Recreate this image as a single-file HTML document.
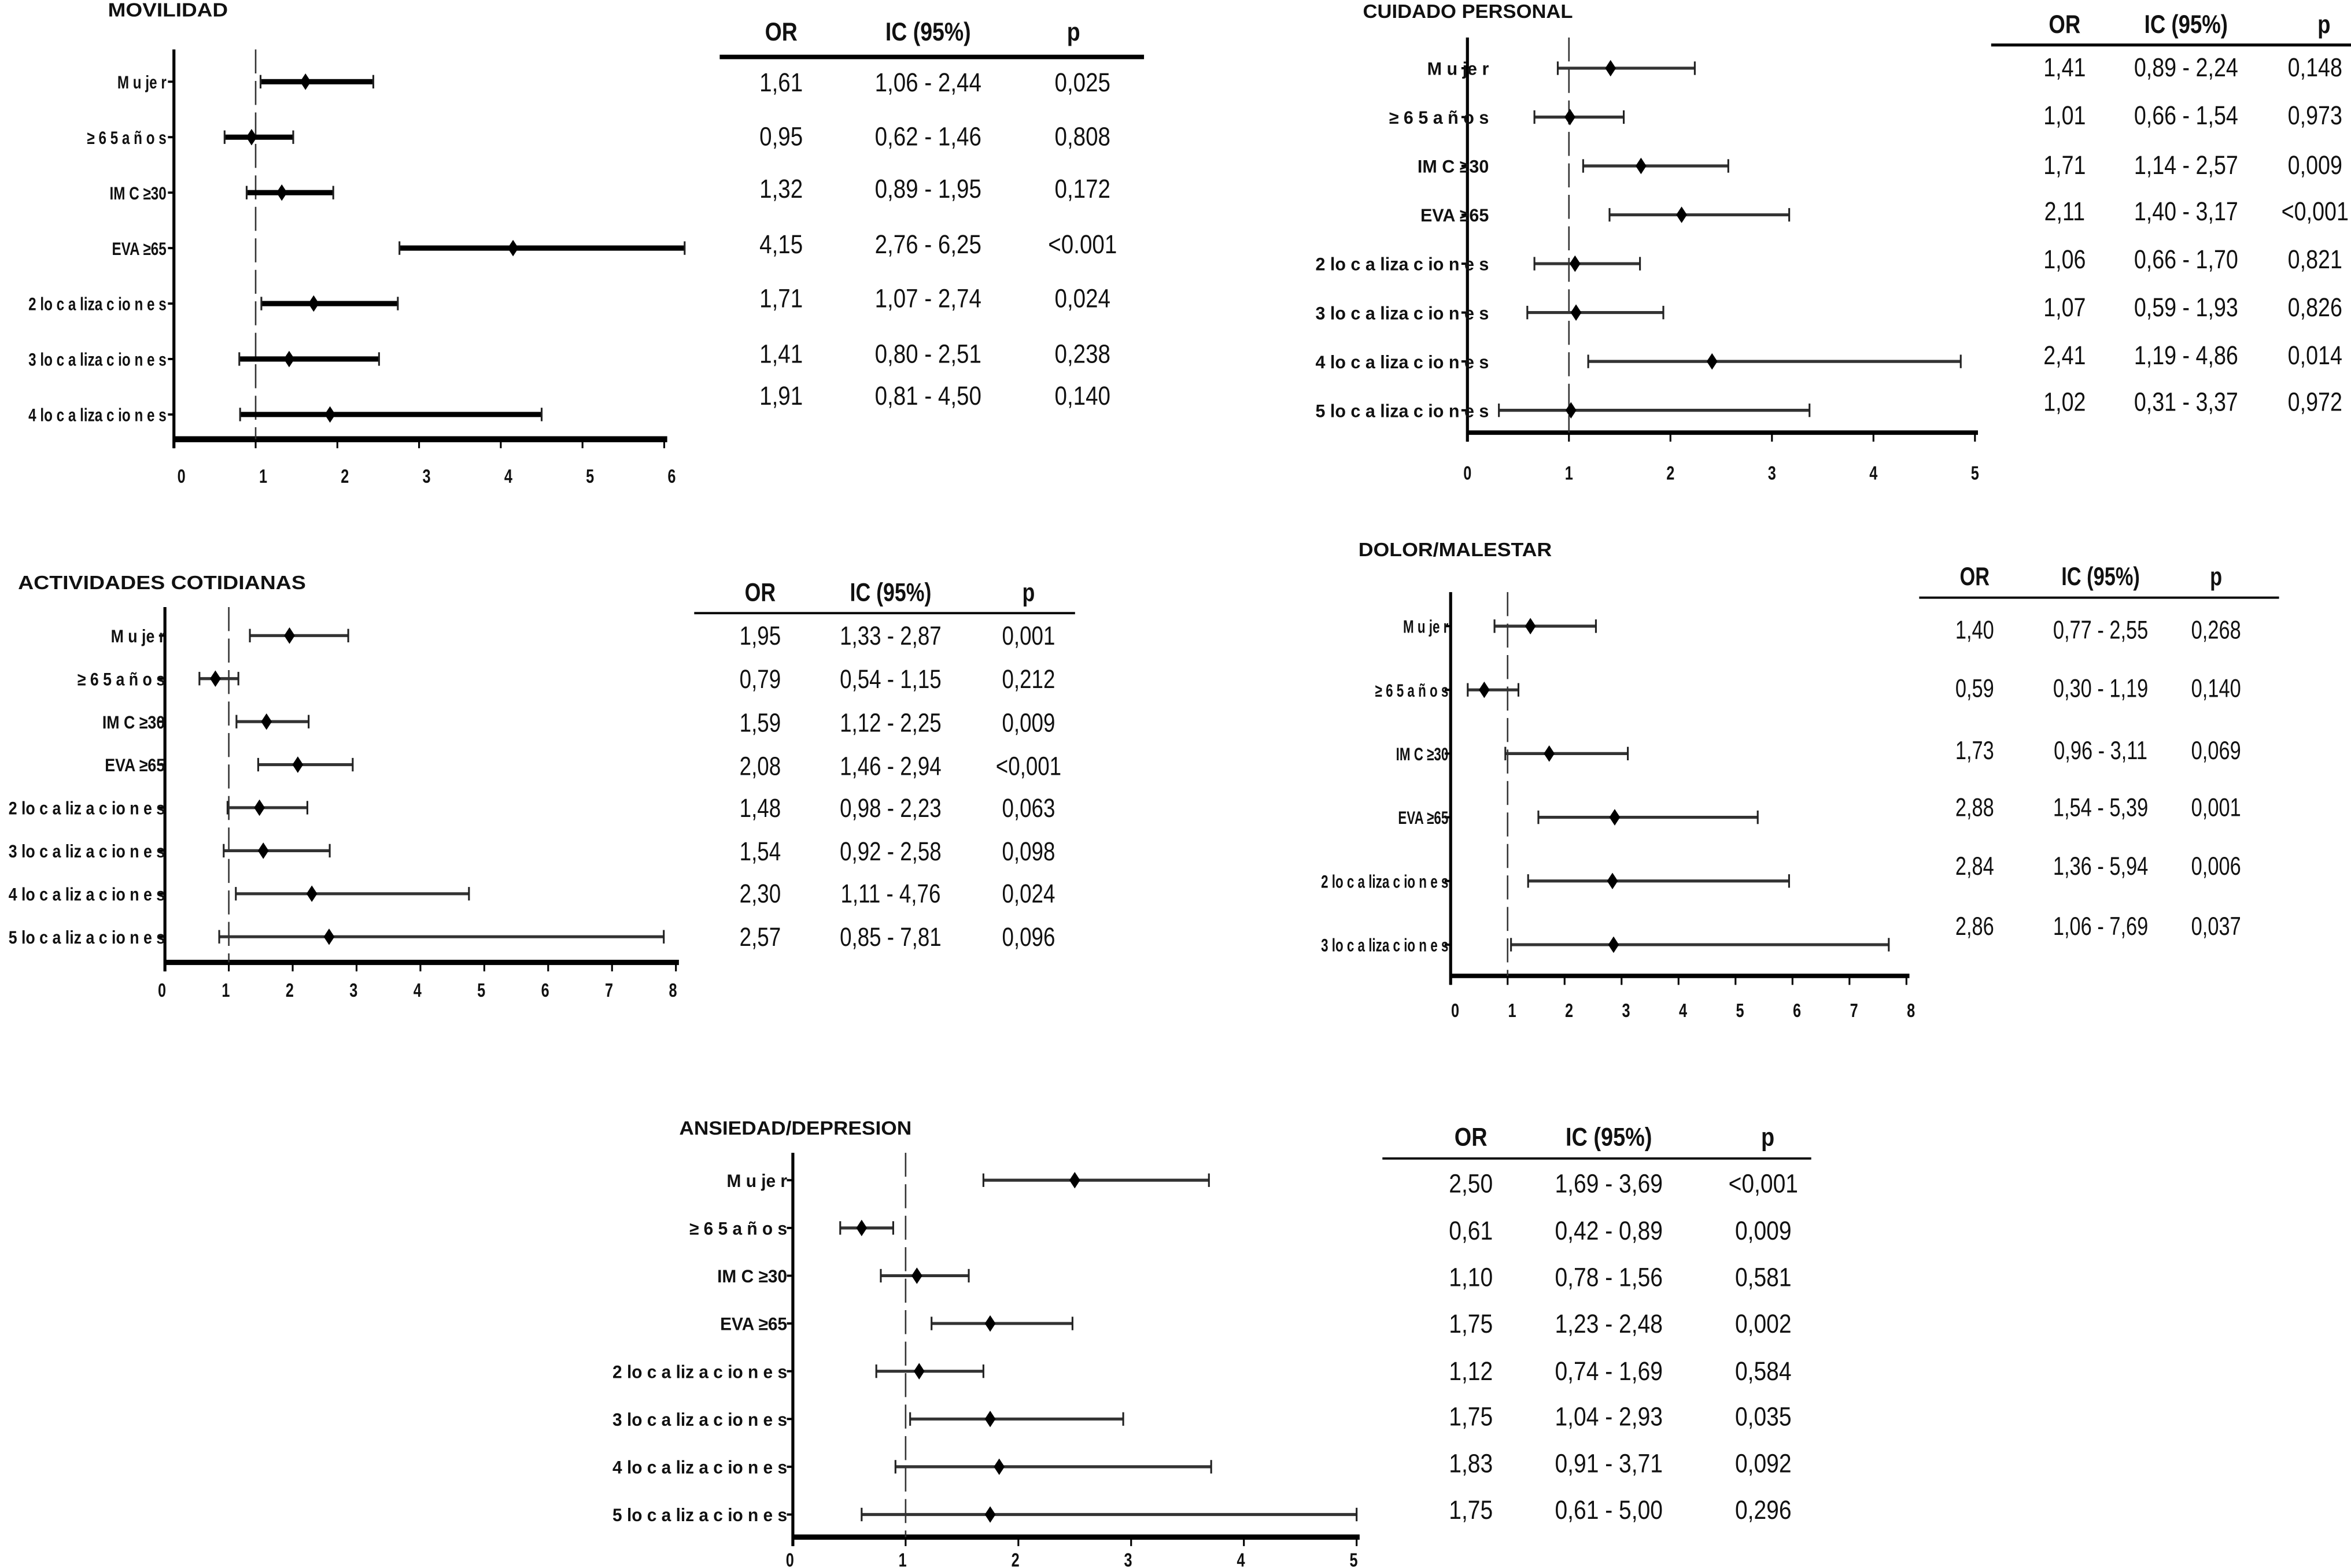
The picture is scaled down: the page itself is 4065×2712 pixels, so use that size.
<!DOCTYPE html>
<html><head><meta charset="utf-8">
<style>
html,body{margin:0;padding:0;background:#fff;}
svg{display:block;}
text{font-family:"Liberation Sans",Arial,sans-serif;fill:#111;}
</style></head>
<body>
<svg id="fig" width="4065" height="2712" viewBox="0 0 1568 1046" preserveAspectRatio="none" xmlns="http://www.w3.org/2000/svg"></svg>
<script>
// ---- data ----
const movLabels = ["M u je r","≥ 6 5 a ñ o s","IM C ≥30","EVA ≥65","2 lo c a liza c io n e s","3 lo c a liza c io n e s","4 lo c a liza c io n e s"];
const movOR = [1.61,0.95,1.32,4.15,1.71,1.41,1.91];
const movLo = [1.06,0.62,0.89,2.76,1.07,0.80,0.81];
const movHi = [2.44,1.46,1.95,6.25,2.74,2.51,4.50];
const movP  = ["0,025","0,808","0,172","<0.001","0,024","0,238","0,140"];
const movTicks = [0,1,2,3,4,5,6];

const cuiLabels = ["M u je r","≥ 6 5 a ñ o s","IM C ≥30","EVA ≥65","2 lo c a liza c io n e s","3 lo c a liza c io n e s","4 lo c a liza c io n e s","5 lo c a liza c io n e s"];
const cuiOR = [1.41,1.01,1.71,2.11,1.06,1.07,2.41,1.02];
const cuiLo = [0.89,0.66,1.14,1.40,0.66,0.59,1.19,0.31];
const cuiHi = [2.24,1.54,2.57,3.17,1.70,1.93,4.86,3.37];
const cuiP  = ["0,148","0,973","0,009","<0,001","0,821","0,826","0,014","0,972"];
const cuiTicks = [0,1,2,3,4,5];

const actLabels = ["M u je r","≥ 6 5 a ñ o s","IM C ≥30","EVA ≥65","2 lo c a liz a c io n e s","3 lo c a liz a c io n e s","4 lo c a liz a c io n e s","5 lo c a liz a c io n e s"];
const actOR = [1.95,0.79,1.59,2.08,1.48,1.54,2.30,2.57];
const actLo = [1.33,0.54,1.12,1.46,0.98,0.92,1.11,0.85];
const actHi = [2.87,1.15,2.25,2.94,2.23,2.58,4.76,7.81];
const actP  = ["0,001","0,212","0,009","<0,001","0,063","0,098","0,024","0,096"];
const actTicks = [0,1,2,3,4,5,6,7,8];

const dolLabels = ["M u je r","≥ 6 5 a ñ o s","IM C ≥30","EVA ≥65","2 lo c a liza c io n e s","3 lo c a liza c io n e s"];
const dolOR = [1.40,0.59,1.73,2.88,2.84,2.86];
const dolLo = [0.77,0.30,0.96,1.54,1.36,1.06];
const dolHi = [2.55,1.19,3.11,5.39,5.94,7.69];
const dolP  = ["0,268","0,140","0,069","0,001","0,006","0,037"];
const dolTicks = [0,1,2,3,4,5,6,7,8];

const ansLabels = ["M u je r","≥ 6 5 a ñ o s","IM C ≥30","EVA ≥65","2 lo c a liz a c io n e s","3 lo c a liz a c io n e s","4 lo c a liz a c io n e s","5 lo c a liz a c io n e s"];
const ansOR = [2.50,0.61,1.10,1.75,1.12,1.75,1.83,1.75];
const ansLo = [1.69,0.42,0.78,1.23,0.74,1.04,0.91,0.61];
const ansHi = [3.69,0.89,1.56,2.48,1.69,2.93,3.71,5.00];
const ansP  = ["<0,001","0,009","0,581","0,002","0,584","0,035","0,092","0,296"];
const ansTicks = [0,1,2,3,4,5];

// ---- drawing ----
const NS = "http://www.w3.org/2000/svg";
const svg = document.getElementById("fig");
function mk(tag, attrs, parent){
  const e = document.createElementNS(NS, tag);
  for (const k in attrs) e.setAttribute(k, attrs[k]);
  (parent||svg).appendChild(e);
  return e;
}
function fmt(v){ return v.toFixed(2).replace(".", ","); }
function txt(parent, s, x, y, size, weight, sx, anchor){
  const t = mk("text", {transform:`translate(${x},${y}) scale(${sx},1)`, "font-size":size, "font-weight":weight, "text-anchor":anchor||"middle"}, parent);
  t.textContent = s;
  return t;
}

function panel(id, c, labels, or, lo, hi, p, ticks){
  const g = mk("g", {});
  
  
  const X = v => c.x0 + v * c.unit;
  const rowY = i => c.row0 + i * c.step;
  const tt = mk("text", {x:c.titleX, y:c.titleY, "font-size":13, "font-weight":"bold", textLength:c.titleW, lengthAdjust:"spacingAndGlyphs"}, g);
  tt.textContent = c.title;
  
  
  const ya = mk("line", {x1:c.x0, y1:c.top, x2:c.x0, y2:c.axisY+6, stroke:"#000", "stroke-width":2}, g);
  
  
  const xa = mk("line", {x1:c.x0, y1:c.axisY, x2:X(ticks[ticks.length-1])+2, y2:c.axisY, stroke:"#000", "stroke-width":c.axisW}, g);
  
  
  ticks.forEach(t => {
    const tk = mk("line", {x1:X(t), y1:c.axisY, x2:X(t), y2:c.axisY+6, stroke:"#000", "stroke-width":1.2}, g);
    
    
    const tl = txt(g, String(t), X(t)+c.tickOff, c.tickY+5, 13, "bold", 0.75);
    
    
  });
  const rl = mk("line", {x1:X(1), y1:c.top, x2:X(1), y2:c.axisY, stroke:"#333", "stroke-width":1, "stroke-dasharray":"16,5"}, g);
  
  
  labels.forEach((lab, i) => {
    const y = rowY(i);
    const yt = mk("line", {x1:c.x0-4, y1:y, x2:c.x0, y2:y, stroke:"#000", "stroke-width":1.5}, g);
    
    
    const lt = txt(g, lab, c.labelX, y+4.5, 12, "bold", c.lsx, "end");
    
    
    const bar = mk("line", {x1:X(lo[i]), y1:y, x2:X(hi[i]), y2:y, stroke:c.barCol, "stroke-width":c.barW}, g);
    
    
    [lo[i], hi[i]].forEach(v => {
      const cap = mk("line", {x1:X(v), y1:y-4.5, x2:X(v), y2:y+4.5, stroke:"#222", "stroke-width":1.2}, g);
      
      
    });
    const cx = X(or[i]);
    const d = mk("polygon", {points:`${cx},${y-5.5} ${cx+3.6},${y} ${cx},${y+5.5} ${cx-3.6},${y}`, fill:"#000"}, g);
    
    
  });
  const T = c.table;
  [["OR",T.orX],["IC (95%)",T.icX],["p",T.pHX]].forEach(h => {
    const ht = txt(g, h[0], h[1], T.hY+6, 17, "bold", T.sx);
    
    
  });
  const tl = mk("line", {x1:T.l1, y1:T.lineY, x2:T.l2, y2:T.lineY, stroke:"#000", "stroke-width":T.lineW}, g);
  
  
  or.forEach((v, i) => {
    const y = T.rows[i] + 6;
    const a = txt(g, fmt(v), T.orX, y, T.fs, "normal", T.sx);
    
    
    const b = txt(g, fmt(lo[i]) + " - " + fmt(hi[i]), T.icX, y, T.fs, "normal", T.sx);
    
    
    const pp = txt(g, p[i], T.pX, y, T.fs, "normal", T.sx);
    
    
  });
}

panel("movilidad", {title:"MOVILIDAD", titleX:72, titleY:11, titleW:80,
  x0:116, unit:54.5, top:33, axisY:293, axisW:4, tickY:317, tickOff:5,
  row0:54.5, step:37, labelX:111, lsx:0.78, barW:3.5, barCol:"#000",
  table:{orX:521, icX:619, pX:722, pHX:716, hY:21, lineY:38, l1:480, l2:763, lineW:3, fs:17.5, sx:0.85,
    rows:[55,91,126,163,199,236,264]}},
  movLabels, movOR, movLo, movHi, movP, movTicks);

panel("cuidado-personal", {title:"CUIDADO PERSONAL", titleX:909, titleY:12, titleW:140,
  x0:978.7, unit:67.7, top:25, axisY:288.6, axisW:3, tickY:315, tickOff:0,
  row0:45.5, step:32.6, labelX:993, lsx:0.98, barW:2, barCol:"#333",
  table:{orX:1377, icX:1458, pX:1544, pHX:1550, hY:16, lineY:30, l1:1328, l2:1568, lineW:2, fs:17.5, sx:0.83,
    rows:[45,77,110,141,173,205,237,268]}},
  cuiLabels, cuiOR, cuiLo, cuiHi, cuiP, cuiTicks);

panel("actividades-cotidianas", {title:"ACTIVIDADES COTIDIANAS", titleX:12, titleY:393, titleW:192,
  x0:110, unit:42.6, top:405, axisY:642, axisW:3.5, tickY:660, tickOff:-2,
  row0:424, step:28.7, labelX:110, lsx:0.86, barW:2, barCol:"#333",
  table:{orX:507, icX:594, pX:686, pHX:686, hY:395, lineY:409, l1:463, l2:717, lineW:1.5, fs:17.5, sx:0.81,
    rows:[424,453,482,511,539,568,596,625]}},
  actLabels, actOR, actLo, actHi, actP, actTicks);

panel("dolor-malestar", {title:"DOLOR/MALESTAR", titleX:906, titleY:371, titleW:129,
  x0:967.5, unit:38, top:395, axisY:651, axisW:3, tickY:673.5, tickOff:3,
  row0:417.7, step:42.5, labelX:966, lsx:0.72, barW:2, barCol:"#333",
  table:{orX:1317, icX:1401, pX:1478, pHX:1478, hY:384.4, lineY:398.7, l1:1280, l2:1520, lineW:1.5, fs:17, sx:0.78,
    rows:[420,459,500.5,538.4,577.6,617.7]}},
  dolLabels, dolOR, dolLo, dolHi, dolP, dolTicks);

panel("ansiedad-depresion", {title:"ANSIEDAD/DEPRESION", titleX:453, titleY:757, titleW:155,
  x0:528.8, unit:75.2, top:769, axisY:1025.4, axisW:3.5, tickY:1040, tickOff:-2,
  row0:787.3, step:31.86, labelX:525, lsx:0.96, barW:2, barCol:"#333",
  table:{orX:981, icX:1073, pX:1176, pHX:1179, hY:758.3, lineY:772.8, l1:922, l2:1208, lineW:1.5, fs:17.5, sx:0.86,
    rows:[789.4,820.9,851.9,883,914.6,945,976.1,1007.2]}},
  ansLabels, ansOR, ansLo, ansHi, ansP, ansTicks);
</script>
</body></html>
